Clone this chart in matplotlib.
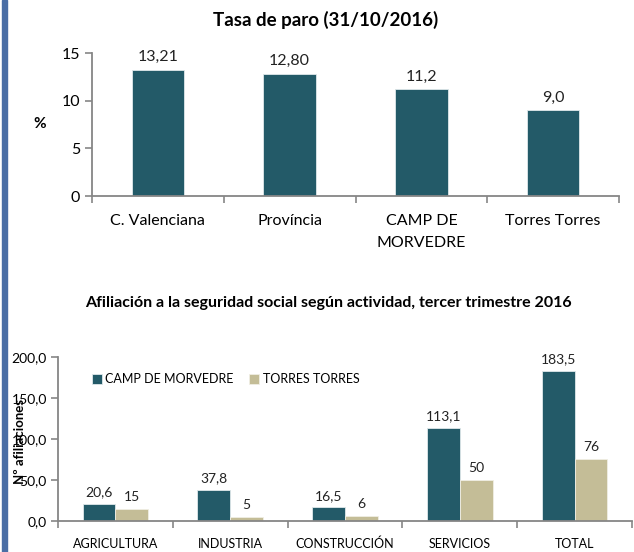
import matplotlib
matplotlib.use("Agg")
import matplotlib.pyplot as plt
import numpy as np
from matplotlib.patches import Rectangle

plt.rcParams['font.family'] = ['Lato', 'DejaVu Sans']

# data: tasa de paro
paro_cats = ["C. Valenciana", "Província", "CAMP DE\nMORVEDRE", "Torres Torres"]
paro_vals = [13.21, 12.80, 11.2, 9.0]
paro_lbls = ["13,21", "12,80", "11,2", "9,0"]

# data: afiliacion por actividad
act_cats = ["AGRICULTURA", "INDUSTRIA", "CONSTRUCCIÓN", "SERVICIOS", "TOTAL"]
camp_vals = [20.6, 37.8, 16.5, 113.1, 183.5]
camp_lbls = ["20,6", "37,8", "16,5", "113,1", "183,5"]
torres_vals = [15, 5, 6, 50, 76]
torres_lbls = ["15", "5", "6", "50", "76"]

dark = "#235a68"
tan = "#c4bd97"
axcol = "#868686"
W, H = 634, 552

fig = plt.figure(figsize=(W / 100, H / 100), dpi=100)

# blue stripe on the left
fig.patches.append(Rectangle((2 / W, 0), 4.5 / W, 1, transform=fig.transFigure,
                             color="#4a6ea5", zorder=0))


def px_axes(left, top, right, bottom):
    return fig.add_axes([left / W, 1 - bottom / H, (right - left) / W, (bottom - top) / H])


def style_axes(ax):
    for s in ["top", "right"]:
        ax.spines[s].set_visible(False)
    for s in ["left", "bottom"]:
        ax.spines[s].set_color(axcol)
        ax.spines[s].set_linewidth(1.3)
    ax.tick_params(axis="y", direction="out", length=5, color=axcol, width=1.2)
    ax.tick_params(axis="x", which="major", length=0)
    ax.tick_params(axis="x", which="minor", direction="out", length=5, color=axcol, width=1.2)


# ---- top chart ----
ax1 = px_axes(92, 53, 619, 196)
x1 = np.arange(len(paro_cats))
ax1.bar(x1, paro_vals, width=0.4, color=dark, edgecolor="#dfe8ea", linewidth=0.6)
for xi, v, l in zip(x1, paro_vals, paro_lbls):
    ax1.text(xi, v + 0.6, l, ha="center", va="bottom", fontsize=11.5, color="#222222")
ax1.set_xlim(-0.5, len(paro_cats) - 0.5)
ax1.set_ylim(0, 15)
ax1.set_yticks([0, 5, 10, 15])
ax1.set_yticklabels(["0", "5", "10", "15"], fontsize=11.5)
ax1.set_xticks(x1)
ax1.set_xticklabels(paro_cats, fontsize=11.5, linespacing=1.7)
ax1.set_xticks(np.arange(-0.5, len(paro_cats)), minor=True)
style_axes(ax1)
ax1.tick_params(axis="x", which="major", pad=13)
ax1.set_ylabel("%", fontsize=11, fontweight="bold", rotation=0, labelpad=16, va="center")
fig.text(326 / W, 1 - 20 / H, "Tasa de paro (31/10/2016)", ha="center", va="center",
         fontsize=13.5, fontweight="bold")

# ---- bottom chart ----
ax2 = px_axes(58, 357, 632, 521)
x2 = np.arange(len(act_cats))
bw = 1 / 3.5
ax2.bar(x2 - bw / 2, camp_vals, width=bw, color=dark, edgecolor="#dfe8ea", linewidth=0.6,
        label="CAMP DE MORVEDRE")
ax2.bar(x2 + bw / 2, torres_vals, width=bw, color=tan, edgecolor="#f0eee4", linewidth=0.6,
        label="TORRES TORRES")
for xi, v, l in zip(x2, camp_vals, camp_lbls):
    ax2.text(xi - bw / 2, v + 7, l, ha="center", va="bottom", fontsize=10, color="#222222")
for xi, v, l in zip(x2, torres_vals, torres_lbls):
    ax2.text(xi + bw / 2, v + 7, l, ha="center", va="bottom", fontsize=10, color="#222222")
ax2.set_xlim(-0.5, len(act_cats) - 0.5)
ax2.set_ylim(0, 200)
ax2.set_yticks([0, 50, 100, 150, 200])
ax2.set_yticklabels(["0,0", "50,0", "100,0", "150,0", "200,0"], fontsize=10)
ax2.set_xticks(x2)
ax2.set_xticklabels(act_cats, fontsize=9)
ax2.set_xticks(np.arange(-0.5, len(act_cats)), minor=True)
style_axes(ax2)
ax2.tick_params(axis="x", which="major", pad=12)
ax2.tick_params(axis="y", pad=3)
fig.text(20 / W, 1 - 442 / H, "Nº afiliaciones", rotation=90, ha="center", va="center",
         fontsize=9.5, fontweight="bold")
ax2.legend(loc="upper left", bbox_to_anchor=(0.05, 0.93), ncol=2, frameon=False,
           fontsize=9, handlelength=0.8, handleheight=0.8, handletextpad=0.3,
           columnspacing=1.2, borderaxespad=0)
fig.text(328 / W, 1 - 303 / H, "Afiliación a la seguridad social según actividad, tercer trimestre 2016",
         ha="center", va="center", fontsize=11.5, fontweight="bold")

fig.savefig("out.png", dpi=100)
